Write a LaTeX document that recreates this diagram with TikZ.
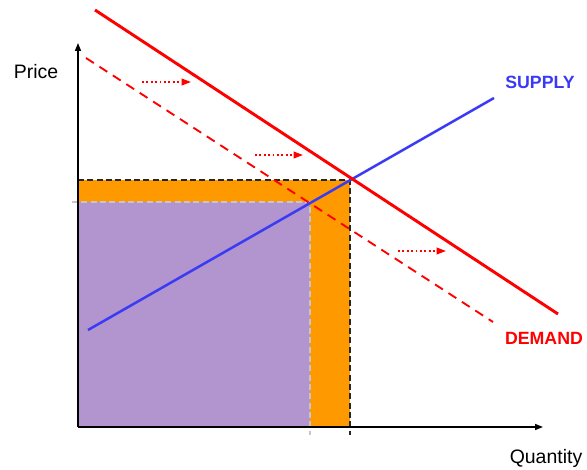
\documentclass[tikz,border=0pt]{standalone}
\usepackage{fontspec}
\setmainfont{Liberation Sans}
\usetikzlibrary{positioning,arrows.meta}
\definecolor{supplyblue}{HTML}{3A3AF5}
\definecolor{demandred}{HTML}{FF0000}
\definecolor{surplusorange}{HTML}{FF9900}
\definecolor{areapurple}{HTML}{B294CE}

\tikzset{
    axis/.style={line width=1.1pt, -{Triangle[length=6pt,width=4.5pt]}},
    shiftarrow/.style={demandred, line width=1.3pt, dotted, -{Triangle[length=7pt,width=5pt]}},
    guideline/.style={line width=1.4pt, dash pattern=on 4.5pt off 2.5pt},
    curvelabel/.style={font=\bfseries\fontsize{13.3}{15}\selectfont},
    axislabel/.style={font=\fontsize{14.6}{17}\selectfont}
}

\begin{document}
\begin{tikzpicture}[x=0.75pt, y=-0.75pt]
    \useasboundingbox (0, 0) rectangle (587, 470);

    % Revenue areas
    \fill[surplusorange] (78, 180) rectangle (350, 427);
    \fill[areapurple] (79, 202) rectangle (310, 427);

    % Equilibrium guides
    \coordinate (Enew) at (350, 180);
    \coordinate (Eold) at (310, 202);
    \draw[guideline, gray!45] (72, 202) -- (Eold) -- (310, 435);
    \draw[guideline, black!85] (78, 180) -- (Enew) -- (350, 435);

    % Axes
    \coordinate (origin) at (78, 427);
    \draw[axis] (origin) -- (78, 43);
    \draw[axis] (origin) -- (543, 427);
    \node[axislabel] (price) at (36, 72) {Price};
    \node[axislabel] (quantity) at (546, 458) {Quantity};

    % Supply curve
    \coordinate (S1) at (88, 330);
    \coordinate (S2) at (494, 98);
    \draw[supplyblue, line width=1.9pt] (S1) -- (S2);
    \node[curvelabel, text=supplyblue] (supply) at (540, 82) {SUPPLY};

    % Demand curves
    \coordinate (D1) at (86, 58);
    \coordinate (D2) at (493, 322);
    \draw[demandred, line width=1.4pt, dash pattern=on 7pt off 5pt] (D1) -- (D2);
    \coordinate (N1) at (95, 10);
    \coordinate (N2) at (558, 314);
    \draw[demandred, line width=2.2pt] (N1) -- (N2);
    \node[curvelabel, text=demandred] (demand) at (544, 338) {DEMAND};

    % Shift arrows
    \coordinate (a1) at (142, 82);
    \coordinate (b1) at (191, 82);
    \coordinate (a2) at (255, 155);
    \coordinate (b2) at (303, 155);
    \coordinate (a3) at (398, 251);
    \coordinate (b3) at (446, 251);
    \draw[shiftarrow] (a1) -- (b1);
    \draw[shiftarrow] (a2) -- (b2);
    \draw[shiftarrow] (a3) -- (b3);
\end{tikzpicture}
\end{document}
